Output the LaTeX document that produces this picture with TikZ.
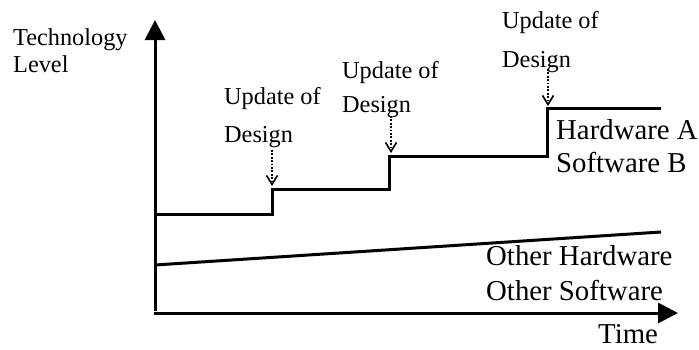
\documentclass[tikz,border=0pt]{standalone}
\usepackage{fontspec}
\setmainfont{Liberation Serif}
\usetikzlibrary{arrows.meta}
\begin{document}
\begin{tikzpicture}[x=1pt,y=-1pt,
  curve/.style={line width=3pt},
  axis/.style={line width=3pt,-{Triangle[length=20pt,width=20pt]}},
  upd/.style={line width=1.8pt,dash pattern=on 1.8pt off 1.6pt,-{Straight Barb[length=9pt,width=11pt,line width=1.6pt]}},
  biglbl/.style={font=\fontsize{28.8}{32}\selectfont, anchor=base west, inner sep=0pt},
  smalllbl/.style={font=\fontsize{24.3}{28}\selectfont, anchor=base west, inner sep=0pt}]
\useasboundingbox (0,0) rectangle (699,349);
% axes
\coordinate (yb) at (155,311);
\coordinate (yt) at (155,20);
\coordinate (xb) at (153.5,313);
\coordinate (xt) at (678,313);
\draw[axis] (yb) -- (yt);
\draw[axis] (xb) -- (xt);
% step curve
\coordinate (s0) at (155,214);
\coordinate (s1) at (272,214);
\coordinate (s2) at (272,189);
\coordinate (s3) at (389,189);
\coordinate (s4) at (389,156);
\coordinate (s5) at (547,156);
\coordinate (s6) at (547,108);
\coordinate (s7) at (661,108);
\draw[curve] (s0) -- (s1) -- (s2) -- (s3) -- (s4) -- (s5) -- (s6) -- (s7);
% other line
\coordinate (o0) at (155,265);
\coordinate (o1) at (661,232);
\draw[curve] (o0) -- (o1);
% labels
\node[smalllbl] (tech) at (13,45) {Technology};
\node[smalllbl] (lev) at (13,72) {Level};
\node[smalllbl] (u1a) at (224,104) {Update of};
\node[smalllbl] (u1b) at (224,142) {Design};
\node[smalllbl] (u2a) at (342,78) {Update of};
\node[smalllbl] (u2b) at (342,112) {Design};
\node[smalllbl] (u3a) at (502,28) {Update of};
\node[smalllbl] (u3b) at (502,67) {Design};
\node[biglbl] (hwa) at (556,139) {Hardware A};
\node[biglbl] (swb) at (556,172) {Software B};
\node[biglbl] (ohw) at (486,265) {Other Hardware};
\node[biglbl] (osw) at (486,300) {Other Software};
\node[biglbl] (time) at (598,343) {Time};
% update arrows
\coordinate (a1) at (272,150);
\coordinate (b1) at (272,186);
\coordinate (a2) at (391,116);
\coordinate (b2) at (391,153);
\coordinate (a3) at (548,69);
\coordinate (b3) at (548,106);
\draw[upd] (a1) -- (b1);
\draw[upd] (a2) -- (b2);
\draw[upd] (a3) -- (b3);
\end{tikzpicture}
\end{document}
